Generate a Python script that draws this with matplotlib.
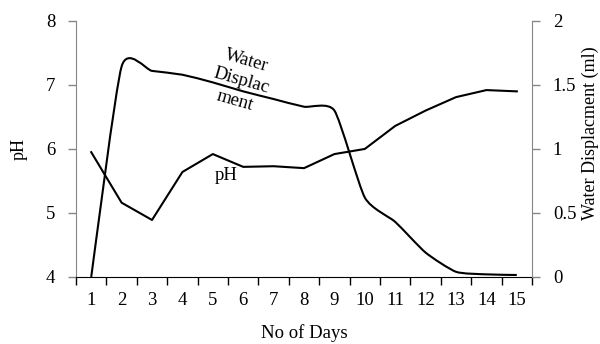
import numpy as np
import matplotlib
matplotlib.use("Agg")
import matplotlib.pyplot as plt
from matplotlib import font_manager
from matplotlib.path import Path
from matplotlib.patches import PathPatch

days = list(range(1, 16))
ph = [5.95, 5.16, 4.89, 5.64, 5.92, 5.72, 5.73, 5.70, 5.92, 6.0, 6.36, 6.6, 6.81, 6.92, 6.9]
water = [0.0, 1.645, 1.61, 1.58, 1.52, 1.45, 1.39, 1.33, 1.30, 0.62, 0.43, 0.19, 0.04, 0.02, 0.015]

GREY = "#868686"


def smooth_path(x, y, k=0.1):
    # cardinal-spline smoothing like the spreadsheet "smoothed line"
    x = np.asarray(x, float)
    y = np.asarray(y, float)
    n = len(x)
    verts = [(x[0], y[0])]
    codes = [Path.MOVETO]
    for i in range(n - 1):
        p0 = i - 1 if i > 0 else i
        p3 = i + 2 if i + 2 < n else i + 1
        c1 = (x[i] + (x[i + 1] - x[p0]) * k, y[i] + (y[i + 1] - y[p0]) * k)
        c2 = (x[i + 1] - (x[p3] - x[i]) * k, y[i + 1] - (y[p3] - y[i]) * k)
        verts += [c1, c2, (x[i + 1], y[i + 1])]
        codes += [Path.CURVE4] * 3
    return Path(verts, codes)


installed = {f.name for f in font_manager.fontManager.ttflist}
serif = [f for f in ["Liberation Serif", "Times New Roman", "Nimbus Roman", "DejaVu Serif"]
         if f in installed]
plt.rcParams['font.family'] = serif + ['DejaVu Sans']
plt.rcParams['font.size'] = 13.5

fig = plt.figure(figsize=(6, 3.44), dpi=100)
ax = fig.add_axes([0.1267, 0.195, 0.76, 0.744])
ax2 = ax.twinx()

ax.plot(days, ph, color="black", lw=1.5, zorder=3)
ax2.add_patch(PathPatch(smooth_path(days, water), facecolor="none",
                        edgecolor="black", lw=1.5))

ax.set_xlim(0.5, 15.5)
ax.set_ylim(4, 8)
ax2.set_ylim(0, 2)
ax.set_yticks([4, 5, 6, 7, 8])
ax2.set_yticks([0, 0.5, 1, 1.5, 2])
ax2.set_yticklabels(["0", "0.5", "1", "1.5", "2"])

# category labels at centres, tick marks at boundaries
ax.set_xticks(days)
ax.set_xticklabels([str(d) for d in days])
ax.set_xticks(np.arange(0.5, 16, 1), minor=True)
ax.tick_params(axis="x", which="major", length=0, pad=11)
ax.tick_params(axis="x", which="minor", length=6, color="black", width=1)
ax.tick_params(axis="y", length=6, color=GREY, width=1, pad=9)
ax2.tick_params(axis="y", length=6, color=GREY, width=1, pad=9)

for a in (ax, ax2):
    a.spines["top"].set_visible(False)
    a.spines["left"].set_color(GREY)
    a.spines["right"].set_color(GREY)
    a.spines["bottom"].set_color("black")
ax2.spines["left"].set_visible(False)
ax.spines["right"].set_visible(False)
ax2.spines["bottom"].set_visible(False)

ax.set_xlabel("No of Days", fontsize=13.5)
ax.xaxis.set_label_coords(0.5, -0.183)
ax.set_ylabel("pH", fontsize=13)
ax.yaxis.set_label_coords(-0.105, 0.5)
ax2.set_ylabel("Water Displacment (ml)", fontsize=13)
ax2.yaxis.set_label_coords(1.11, 0.56)

ax.text(5.93, 7.07, "Water\nDisplac\nment", rotation=-16, ha="center", va="center",
        multialignment="center", linespacing=1.3)
ax.text(5.43, 5.58, "pH", ha="center", va="center")

fig.savefig("out.png", dpi=100)
